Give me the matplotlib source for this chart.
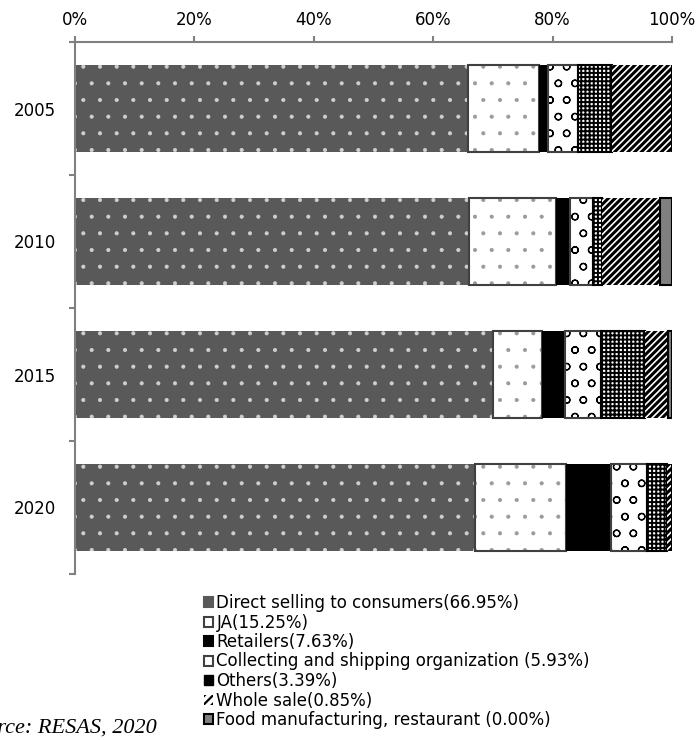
import matplotlib
matplotlib.use("Agg")
import matplotlib.pyplot as plt
from matplotlib.patches import Patch
import numpy as np

years = ["2005", "2010", "2015", "2020"]
series = [
    "Direct selling to consumers(66.95%)",
    "JA(15.25%)",
    "Retailers(7.63%)",
    "Collecting and shipping organization (5.93%)",
    "Others(3.39%)",
    "Whole sale(0.85%)",
    "Food manufacturing, restaurant (0.00%)",
]
direct = [65.9, 66.05, 70.1, 66.95]
ja = [11.9, 14.5, 8.2, 15.25]
retailers = [1.5, 2.3, 3.8, 7.63]
collecting = [4.9, 4.0, 6.0, 5.93]
others = [5.8, 1.4, 7.4, 3.39]
wholesale = [10.0, 9.7, 3.8, 0.85]
food = [0.0, 2.0, 0.7, 0.0]
values = [direct, ja, retailers, collecting, others, wholesale, food]

# style: (face, hatch, hatchcolor, outline, hatch linewidth)
styles = [
    ("#595959", ".", "#d0d0d0", None, 0.5),
    ("white", ".", "#9a9a9a", "#404040", 0.5),
    ("black", None, "black", None, 1.0),
    ("white", "o", "black", "#404040", 0.9),
    ("white", "++++", "black", "black", 1.4),
    ("white", "/////", "black", None, 2.2),
    ("#808080", None, "#808080", "black", 1.0),
]

plt.rcParams["font.family"] = ["DejaVu Sans"]
plt.rcParams["hatch.linewidth"] = 1.6

fig = plt.figure(figsize=(6.97, 7.40), dpi=100)
ax = fig.add_axes([75/697, 1-574/740, (672-75)/697, (574-42)/740])

y = np.arange(len(years))
left = np.zeros(len(years))
h = 0.66
for vals, (face, hatch, hc, outline, hlw) in zip(values, styles):
    vals = np.array(vals)
    bars = ax.barh(y, vals, left=left, height=h, color=face, hatch=hatch,
                   edgecolor=hc, linewidth=0)
    for b in bars:
        if hasattr(b, "set_hatch_linewidth"):
            b.set_hatch_linewidth(hlw)
    if outline is not None:
        ax.barh(y, vals, left=left, height=h, fill=False,
                edgecolor=outline, linewidth=1.5)
    left += vals

ax.set_xlim(0, 100)
ax.set_ylim(len(years) - 0.5, -0.5)
ax.set_yticks(y)
ax.set_yticklabels(years)
ax.set_yticks(np.arange(-0.5, len(years)), minor=True)
ax.tick_params(axis="y", which="major", length=0, pad=14, labelsize=12)
ax.tick_params(axis="y", which="minor", length=4.3, color="#808080", width=1.5)
ax.xaxis.tick_top()
ax.set_xticks(np.arange(0, 101, 20))
ax.set_xticklabels([f"{v}%" for v in range(0, 101, 20)])
ax.tick_params(axis="x", length=4.3, color="#808080", width=1.5, labelsize=12, pad=5)
for s in ["right", "bottom"]:
    ax.spines[s].set_visible(False)
for s in ["top", "left"]:
    ax.spines[s].set_color("#808080")
    ax.spines[s].set_linewidth(1.5)

handles = []
for (face, hatch, hc, outline, hlw) in styles:
    handles.append(Patch(facecolor=face, edgecolor=outline if outline else face,
                         linewidth=1.5))
handles[4] = Patch(facecolor="black", hatch="+", edgecolor="black", linewidth=1)
handles[5] = Patch(facecolor="white", hatch="////", edgecolor="black", linewidth=0)
fig.legend(handles, series, loc="upper left",
           bbox_to_anchor=(204/697, 1-594/740), frameon=False,
           fontsize=12, handlelength=0.55, handleheight=0.55,
           handletextpad=0.2, labelspacing=0.09, borderpad=0, borderaxespad=0)

fig.text(157/697, 1-733/740, "Source: RESAS, 2020", ha="right", va="baseline",
         fontsize=16, style="italic", family="Liberation Serif")

fig.savefig("out.png", dpi=100)
